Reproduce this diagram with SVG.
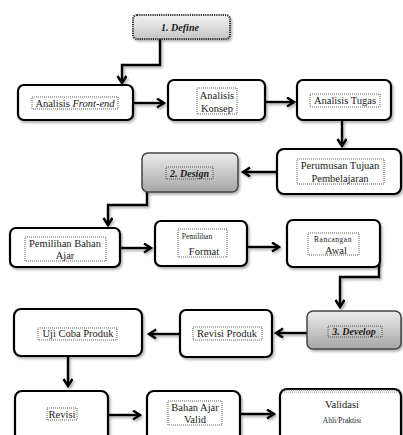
<svg xmlns="http://www.w3.org/2000/svg" width="403" height="435" viewBox="0 0 403 435">
<defs>
<linearGradient id="gLight" x1="0" y1="0" x2="0" y2="1"><stop offset="0" stop-color="#f4f4f4"/><stop offset="1" stop-color="#c4c4c4"/></linearGradient>
<linearGradient id="gGray" x1="0" y1="0" x2="0" y2="1"><stop offset="0" stop-color="#ececec"/><stop offset="1" stop-color="#a6a6a6"/></linearGradient>
<filter id="sh" x="-10%" y="-10%" width="130%" height="140%"><feDropShadow dx="1.5" dy="2" stdDeviation="1.2" flood-color="#000" flood-opacity="0.3"/></filter>
<filter id="shu" filterUnits="userSpaceOnUse" x="0" y="0" width="403" height="435"><feDropShadow dx="1.5" dy="2" stdDeviation="1.2" flood-color="#000" flood-opacity="0.3"/></filter>
<marker id="ah" markerUnits="userSpaceOnUse" markerWidth="12" markerHeight="12" refX="8" refY="5" orient="auto" viewBox="0 0 12 12">
<path d="M1,0.5 L8,5 L1,9.5" fill="none" stroke="#000" stroke-width="2.4"/>
</marker>
</defs>
<style>
.box{fill:#fff;stroke:#000;stroke-width:2.2;filter:url(#sh)}
.phase{stroke:#444;stroke-width:1.5;filter:url(#sh)}
.tb{fill:none;stroke:#333;stroke-width:0.8;stroke-dasharray:1 1}
text{font-family:'Liberation Serif','Times New Roman',serif;fill:#1a1a1a;text-anchor:middle}
.t{font-size:10.5px}
.s{font-size:7.5px}
.p{font-size:10px;font-weight:bold;font-style:italic}
.c{fill:none;stroke:#000;stroke-width:2.4;marker-end:url(#ah)}
</style>
<rect width="403" height="435" fill="#fff"/>

<g id="connectors" filter="url(#shu)">
<path class="c" d="M160,39 V65 H122 V83"/>
<path class="c" d="M134,103 H164"/>
<path class="c" d="M266,102 H294"/>
<path class="c" d="M342,120 V146"/>
<path class="c" d="M277,172 H243"/>
<path class="c" d="M147,192 V205 H108 V225"/>
<path class="c" d="M121,248 H151"/>
<path class="c" d="M248,247 H279"/>
<path class="c" d="M379,262 V277 H340 V307"/>
<path class="c" d="M307,333 H276"/>
<path class="c" d="M180,334 H149"/>
<path class="c" d="M68,356 V386"/>
<path class="c" d="M108,415 H140"/>
<path class="c" d="M241,414 H274"/>
</g>

<g id="define">
<rect x="133" y="15" width="97" height="24" rx="4" fill="url(#gLight)" stroke="#333" stroke-width="2" stroke-dasharray="1.2 1" filter="url(#sh)"/>
<text class="p" x="180" y="30.5">1. Define</text>
</g>

<g id="analisis-front-end">
<rect class="box" x="18" y="85" width="115" height="35" rx="6"/>
<rect class="tb" x="32" y="97" width="86" height="12"/>
<text class="t" x="75" y="106.5">Analisis <tspan font-style="italic">Front-end</tspan></text>
</g>

<g id="analisis-konsep">
<rect class="box" x="168" y="80" width="97" height="40" rx="6"/>
<rect class="tb" x="197" y="88" width="40" height="26"/>
<text class="t" x="217" y="98.5">Analisis</text>
<text class="t" x="217" y="111.5">Konsep</text>
</g>

<g id="analisis-tugas">
<rect class="box" x="297" y="80" width="94" height="40" rx="6"/>
<rect class="tb" x="310" y="94" width="70" height="13"/>
<text class="t" x="345" y="104">Analisis  Tugas</text>
</g>

<g id="perumusan">
<rect class="box" x="277" y="149" width="124" height="45" rx="7"/>
<rect class="tb" x="297" y="159" width="87" height="25"/>
<text class="t" x="340" y="168.5">Perumusan  Tujuan</text>
<text class="t" x="340" y="182">Pembelajaran</text>
</g>

<g id="design">
<rect class="phase" x="142" y="153" width="96" height="39" rx="6" fill="url(#gGray)"/>
<rect class="tb" x="166" y="167" width="47" height="12"/>
<text class="p" x="189.5" y="176.5">2. Design</text>
</g>

<g id="pemilihan-bahan">
<rect class="box" x="10" y="228" width="110" height="39" rx="6"/>
<rect class="tb" x="25" y="237" width="81" height="24"/>
<text class="t" x="65" y="246.5">Pemilihan  Bahan</text>
<text class="t" x="65" y="259">Ajar</text>
</g>

<g id="pemilihan-format">
<rect class="box" x="155" y="221" width="92" height="45" rx="6"/>
<rect class="tb" x="178" y="229" width="49" height="28"/>
<text class="s" x="197" y="239">Pemilihan</text>
<text class="t" x="204" y="255">Format</text>
</g>

<g id="rancangan-awal">
<rect class="box" x="287" y="220" width="93" height="47" rx="6"/>
<rect class="tb" x="308" y="233" width="51" height="22"/>
<text class="s" x="333" y="242" letter-spacing="0.5">Rancangan</text>
<text class="t" x="336" y="253.5">Awal</text>
</g>

<g id="develop">
<rect class="phase" x="307" y="311" width="94" height="38" rx="6" fill="url(#gGray)"/>
<rect class="tb" x="328" y="326" width="54" height="11"/>
<text class="p" x="354" y="335">3. Develop</text>
</g>

<g id="revisi-produk">
<rect class="box" x="180" y="310" width="92" height="47" rx="6"/>
<rect class="tb" x="193" y="327" width="69" height="13"/>
<text class="t" x="227" y="337">Revisi Produk</text>
</g>

<g id="uji-coba">
<rect class="box" x="14" y="309" width="128" height="47" rx="7"/>
<rect class="tb" x="38" y="328" width="79" height="12"/>
<text class="t" x="78" y="337">Uji Coba Produk</text>
</g>

<g id="revisi">
<rect class="box" x="15" y="391" width="93" height="52" rx="7"/>
<rect class="tb" x="47" y="408" width="30" height="12"/>
<text class="t" x="62" y="417.5">Revisi</text>
</g>

<g id="bahan-ajar-valid">
<rect class="box" x="147" y="391" width="93" height="52" rx="7"/>
<rect class="tb" x="168" y="401" width="54" height="24"/>
<text class="t" x="195" y="410.5">Bahan  Ajar</text>
<text class="t" x="195" y="423">Valid</text>
</g>

<g id="validasi">
<rect class="box" x="280" y="389" width="121" height="54" rx="7"/>
<rect x="281" y="390" width="119" height="2" fill="none" stroke="#666" stroke-width="0.8" stroke-dasharray="1 1"/>
<text class="t" x="342" y="408">Validasi</text>
<text class="s" x="342" y="423">Ahli/Praktisi</text>
</g>
</svg>
